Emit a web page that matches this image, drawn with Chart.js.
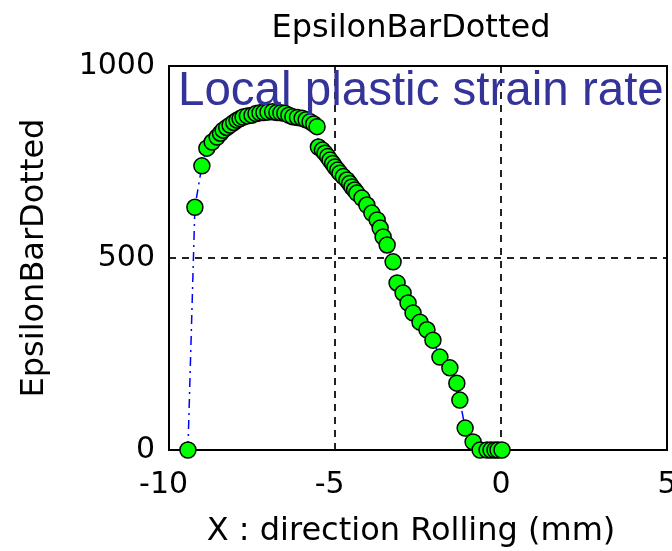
<!DOCTYPE html>
<html>
<head>
<meta charset="utf-8">
<script src="https://cdn.jsdelivr.net/npm/chart.js@4/dist/chart.umd.min.js"></script>
<style>
  html, body { margin: 0; padding: 0; background: #fff; }
  #wrap { width: 672px; height: 551px; }
</style>
</head>
<body>
<div id="wrap"><canvas id="c" width="672" height="551"></canvas></div>
<script>
// Position along the rolling direction (mm)
const positionX = [
  -9.43, -9.22, -9.01, -8.86, -8.70, -8.55, -8.45, -8.37, -8.26, -8.16,
  -8.05, -7.95, -7.86, -7.77, -7.64, -7.50, -7.38, -7.26, -7.14, -7.02,
  -6.88, -6.75, -6.63, -6.51, -6.39, -6.27, -6.13, -5.99, -5.87, -5.75,
  -5.64, -5.54, -5.50, -5.38, -5.30, -5.22, -5.15, -5.07, -5.00, -4.92,
  -4.85, -4.75, -4.64, -4.56, -4.49, -4.41, -4.34, -4.19, -4.04, -3.89,
  -3.73, -3.64, -3.55, -3.43, -3.25, -3.13, -2.95, -2.80, -2.65, -2.44,
  -2.23, -2.05, -1.84, -1.54, -1.33, -1.24, -1.08, -0.84, -0.63, -0.42,
  -0.30, -0.18, -0.09, 0.03
];
// Equivalent plastic strain rate at each position
const strainRate = [
  0, 632, 740, 786, 802, 815, 825, 833, 840, 846,
  853, 859, 863, 867, 870, 872, 876, 878, 879, 880,
  881, 879, 878, 877, 872, 868, 866, 864, 860, 855,
  849, 842, 789, 781, 773, 764, 755, 746, 737, 729,
  721, 712, 703, 694, 685, 677, 669, 656, 638, 617,
  599, 578, 555, 534, 490, 435, 409, 383, 357, 333,
  313, 286, 242, 214, 174, 130, 57, 21, 0, 0,
  0, 0, 0, 0
];
const xTickValues = [-10, -5, 0, 5];
const yTickValues = [0, 500, 1000];

const chartTitle = 'EpsilonBarDotted';
const xAxisTitle = 'X : direction Rolling (mm)';
const yAxisTitle = 'EpsilonBarDotted';
const noteText = 'Local plastic strain rate';

const textFont = "'DejaVu Sans', 'Liberation Sans', sans-serif";

const points = positionX.map((x, i) => ({ x: x, y: strainRate[i] }));

// Solid frame around the plotting area, drawn beneath the markers
const framePlugin = {
  id: 'frame',
  beforeDatasetsDraw(chart) {
    const a = chart.chartArea, ctx = chart.ctx;
    ctx.save();
    ctx.strokeStyle = '#000';
    ctx.lineWidth = 2;
    ctx.strokeRect(a.left, a.top, a.right - a.left, a.bottom - a.top);
    ctx.restore();
  }
};

// Caption written inside the plotting area
const notePlugin = {
  id: 'note',
  afterDatasetsDraw(chart) {
    const a = chart.chartArea, ctx = chart.ctx;
    ctx.save();
    ctx.font = "47.5px 'Liberation Sans', Arial, sans-serif";
    ctx.fillStyle = '#333399';
    ctx.textAlign = 'left';
    ctx.textBaseline = 'alphabetic';
    ctx.fillText(noteText, a.left + 9, a.top + 39);
    ctx.restore();
  }
};

// Chart title, x-axis title and x tick labels (digits centred on the tick,
// a leading minus sign hangs to the left)
const textPlugin = {
  id: 'texts',
  afterDraw(chart) {
    const a = chart.chartArea, ctx = chart.ctx, xs = chart.scales.x;
    ctx.save();
    ctx.fillStyle = '#000';
    ctx.textBaseline = 'alphabetic';
    ctx.font = '32px ' + textFont;
    ctx.textAlign = 'center';
    const mid = (a.left + a.right) / 2 - 7;
    ctx.fillText(chartTitle, mid, a.top - 29);
    ctx.fillText(xAxisTitle, mid, a.bottom + 90);
    ctx.font = '30px ' + textFont;
    ctx.textAlign = 'left';
    xTickValues.forEach((v) => {
      const label = String(v);
      const digitsW = ctx.measureText(label.replace('-', '')).width;
      const fullW = ctx.measureText(label).width;
      const px = xs.getPixelForValue(v);
      ctx.fillText(label, px + digitsW / 2 - fullW, a.bottom + 43);
    });
    ctx.restore();
  }
};

const edgeAware = (ends) => (ctx) => {
  const v = ctx.tick && ctx.tick.value;
  return ends.includes(v) ? 'rgba(0,0,0,0)' : '#222';
};

new Chart(document.getElementById('c'), {
  type: 'scatter',
  data: {
    datasets: [{
      data: points,
      showLine: true,
      borderColor: '#0000ff',
      borderWidth: 1.5,
      borderDash: [9, 5, 2, 5],
      pointRadius: 8,
      pointHoverRadius: 8,
      pointBackgroundColor: '#00ff00',
      pointBorderColor: '#000',
      pointBorderWidth: 1.5,
      clip: false
    }]
  },
  options: {
    responsive: false,
    animation: false,
    layout: { autoPadding: false, padding: { left: 0, right: 5, top: 66, bottom: 0 } },
    plugins: {
      legend: { display: false },
      tooltip: { enabled: false },
      title: { display: false }
    },
    scales: {
      x: {
        type: 'linear',
        min: -10,
        max: 5,
        afterBuildTicks: (s) => { s.ticks = xTickValues.map(v => ({ value: v })); },
        afterFit: (s) => { s.height = 101; s.paddingLeft = 0; s.paddingRight = 0; },
        grid: { color: edgeAware([-10, 5]), lineWidth: 2, drawTicks: false },
        border: { display: false, dash: [7, 6] },
        ticks: { display: false },
        title: { display: false }
      },
      y: {
        type: 'linear',
        min: 0,
        max: 1000,
        afterBuildTicks: (s) => { s.ticks = yTickValues.map(v => ({ value: v })); },
        afterFit: (s) => { s.width = 169; s.paddingTop = 0; s.paddingBottom = 0; },
        grid: { color: edgeAware([0, 1000]), lineWidth: 2, drawTicks: false },
        border: { display: false, dash: [7, 6] },
        ticks: {
          color: '#000', padding: 14,
          font: { family: textFont, size: 30 },
          callback: (v) => String(v)
        },
        title: {
          display: true,
          text: yAxisTitle,
          color: '#000',
          font: { family: textFont, size: 32, lineHeight: 1.2 },
          padding: { top: 15, bottom: 0 }
        }
      }
    }
  },
  plugins: [framePlugin, notePlugin, textPlugin]
});
</script>
</body>
</html>
